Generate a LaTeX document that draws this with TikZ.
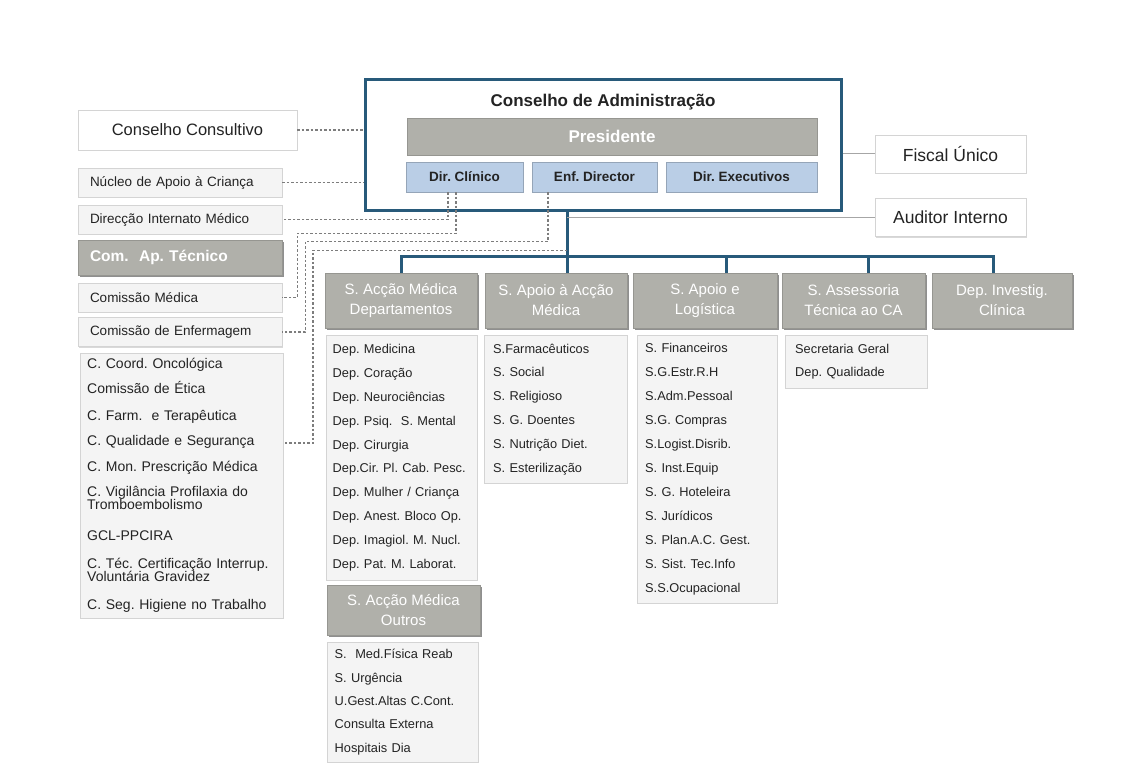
\documentclass[tikz,border=0pt]{standalone}
\usepackage{fontspec}
\setmainfont{Liberation Sans}
\usetikzlibrary{calc,shadows}
\frenchspacing

\definecolor{cablue}{RGB}{40,90,122}
\definecolor{hdrgray}{RGB}{176,176,170}
\definecolor{hdrline}{RGB}{150,150,145}
\definecolor{dirblue}{RGB}{186,206,230}
\definecolor{boxfill}{RGB}{244,244,244}
\definecolor{boxline}{RGB}{212,212,212}
\definecolor{txt}{RGB}{35,35,35}
\definecolor{dotgray}{RGB}{125,125,125}

\tikzset{
  hdr/.style={fill=hdrgray, draw=hdrline, text=white, align=center,
    drop shadow={shadow xshift=1.5pt, shadow yshift=-2pt, fill=black!55, opacity=0.8},
    font=\fontsize{15}{20}\selectfont},
  side/.style={fill=boxfill, draw=boxline, text=txt,
    drop shadow={shadow xshift=1pt, shadow yshift=-1.5pt, fill=black!25, opacity=0.6}},
  sidetxt/.style={side, text width=180pt, inner xsep=12pt, minimum height=29pt,
    align=left, font=\fontsize{13.5}{15}\selectfont},
  lst/.style={fill=boxfill, draw=boxline, text=txt, anchor=north west, align=left,
    font=\fontsize{12.8}{23.8}\selectfont},
  dirbox/.style={fill=dirblue, draw=dirblue!80!black, text=txt, minimum height=30pt,
    font=\bfseries\fontsize{13.5}{15}\selectfont},
  bus/.style={cablue, line width=3pt},
  link/.style={black!35, line width=1pt},
  dots/.style={dotgray, line width=1.3pt, dash pattern=on 2.5pt off 2pt}
}

\begin{document}
\begin{tikzpicture}[x=1pt, y=-1pt]
        \useasboundingbox (0,0) rectangle (1128,778);
        % Board
        \node[draw=cablue, line width=3pt, fill=white, minimum width=476pt, minimum height=131pt] (ca) at (603,145.5) {};
        \node[text=txt, font=\bfseries\fontsize{17}{20}\selectfont] (catitle) at (603,102) {Conselho de Administração};
        \node[fill=hdrgray, draw=hdrline, text=white, minimum width=410pt, minimum height=37pt,
          font=\bfseries\fontsize{17}{20}\selectfont] (pres) at (612,136.5) {Presidente};
        \node[dirbox, minimum width=117pt] (dc) at (464.5,177) {Dir. Clínico};
        \node[dirbox, minimum width=125pt] (ed) at (594.5,177) {Enf. Director};
        \node[dirbox, minimum width=151pt] (dx) at (741.5,177) {Dir. Executivos};

        % Left column
        \node[side, fill=white, minimum width=219pt, minimum height=40pt,
          font=\fontsize{16.5}{18}\selectfont] (cc) at (187.5,130) {Conselho Consultivo};
        \node[sidetxt] (nac) at (180,182.5) {Núcleo de Apoio à Criança};
        \node[sidetxt] (dim) at (180,219.5) {Direcção Internato Médico};
        \node[hdr, text width=180pt, inner xsep=12pt, minimum height=35pt, align=left,
          font=\bfseries\fontsize{15.5}{18}\selectfont] (cap) at (180,257.5) {Com.\ \ Ap. Técnico};
        \node[sidetxt] (cm) at (180,297.5) {Comissão Médica};
        \node[sidetxt] (ce) at (180,332) {Comissão de Enfermagem};
        \node[lst, text width=189pt, inner xsep=7pt, minimum height=265pt,
          font=\fontsize{14}{13.5}\selectfont] (lc) at (80,353) {C. Coord. Oncológica\\[8.5pt]
          Comissão de Ética\\[13.5pt]
          C. Farm.\ \ e Terapêutica\\[12pt]
          C. Qualidade e Segurança\\[12pt]
          C. Mon. Prescrição Médica\\[11.5pt]
          C. Vigilância Profilaxia do\\
          Tromboembolismo\\[17pt]
          GCL-PPCIRA\\[14.5pt]
          C. Téc. Certificação Interrup.\\
          Voluntária Gravidez\\[14.5pt]
          C. Seg. Higiene no Trabalho};

        % Right side
        \node[side, fill=white, minimum width=151pt, minimum height=38pt,
          font=\fontsize{17.5}{20}\selectfont] (fu) at (950.5,154) {Fiscal Único};
        \node[side, fill=white, minimum width=151pt, minimum height=38pt,
          font=\fontsize{17.5}{20}\selectfont] (ai) at (950.5,217.5) {Auditor Interno};

        % Services
        \node[hdr, minimum width=152pt, minimum height=55pt] (h1) at (401,300.5) {S. Acção Médica\\Departamentos};
        \node[hdr, minimum width=142pt, minimum height=55pt] (h2) at (556,300.5) {S. Apoio à Acção\\Médica};
        \node[hdr, minimum width=144pt, minimum height=55pt] (h3) at (705,300.5) {S. Apoio e\\Logística};
        \node[hdr, minimum width=143pt, minimum height=55pt] (h4) at (853.5,300.5) {S. Assessoria\\Técnica ao CA};
        \node[hdr, minimum width=140pt, minimum height=55pt] (h5) at (1002,300.5) {Dep. Investig.\\Clínica};
        \node[hdr, minimum width=153pt, minimum height=50pt] (h6) at (403.5,610) {S. Acção Médica\\Outros};

        % Lists
        \node[lst, text width=138pt, inner xsep=6.5pt, minimum height=245pt] (l1) at (326,335) {Dep. Medicina\\Dep. Coração\\Dep. Neurociências\\Dep. Psiq.\ \ S. Mental\\Dep. Cirurgia\\Dep.Cir. Pl. Cab. Pesc.\\Dep. Mulher / Criança\\Dep. Anest. Bloco Op.\\Dep. Imagiol. M. Nucl.\\Dep. Pat. M. Laborat.};
        \node[lst, text width=125pt, inner xsep=9pt, minimum height=148pt] (l2) at (484,335) {S.Farmacêuticos\\S. Social\\S. Religioso\\S. G. Doentes\\S. Nutrição Diet.\\S. Esterilização};
        \node[lst, text width=124pt, inner xsep=8pt, minimum height=268pt,
          font=\fontsize{12.8}{24}\selectfont] (l3) at (637,335) {S. Financeiros\\S.G.Estr.R.H\\S.Adm.Pessoal\\S.G. Compras\\S.Logist.Disrib.\\S. Inst.Equip\\S. G. Hoteleira\\S. Jurídicos\\S. Plan.A.C. Gest.\\S. Sist. Tec.Info\\S.S.Ocupacional};
        \node[lst, text width=122pt, inner xsep=10pt, minimum height=53pt] (l4) at (785,335) {Secretaria Geral\\Dep. Qualidade};
        \node[lst, text width=136pt, inner xsep=7.5pt, minimum height=120pt,
          font=\fontsize{12.8}{23.3}\selectfont] (l6) at (327,642) {S.\ \ Med.Física Reab\\S. Urgência\\U.Gest.Altas C.Cont.\\Consulta Externa\\Hospitais Dia};

        % Lines
        \coordinate (trunk) at (567,257);
        \draw[bus] (ca.south -| trunk) -- (h2.north -| trunk);
        \draw[bus] (h1.north) |- (trunk) -| ([xshift=-9pt]h5.north);
        \draw[bus] ([xshift=21pt]h3.north) |- (trunk);
        \draw[bus] ([xshift=14.5pt]h4.north) |- (trunk);
        \draw[link] (ca.east |- fu) -- (fu.west);
        \draw[link] (trunk |- ai.west) -- (ai.west);

        % Dotted links
        \draw[dots] (cc.east) -- (cc.east -| ca.west);
        \draw[dots] (nac.east) -- (nac.east -| ca.west);
        \draw[dots] ([xshift=-16.5pt]dc.south) |- (dim.east);
        \draw[dots] ([xshift=-8.5pt]dc.south) -- ++(0,41) -| ([xshift=15pt]cm.east) -- (cm.east);
        \draw[dots] ([xshift=-46.5pt]ed.south) -- ++(0,49) -| ([xshift=23pt]ce.east) -- (ce.east);
        \coordinate (cqs) at (283,443);
        \draw[dots] ($(ca.south -| trunk)+(0,38)$) -| ([xshift=30pt]cqs) -- (cqs);

    \end{tikzpicture}
\end{document}
